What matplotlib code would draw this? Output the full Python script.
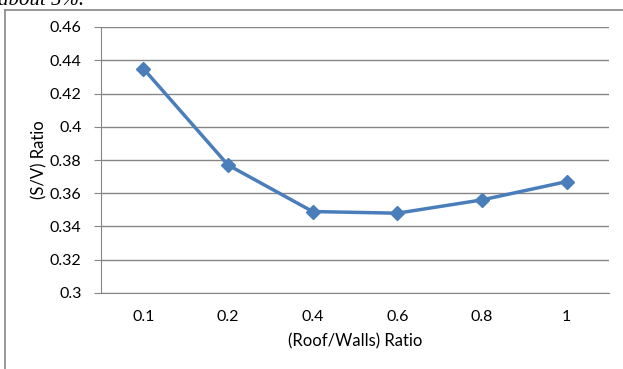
import matplotlib
matplotlib.use("Agg")
import matplotlib.pyplot as plt
from matplotlib.lines import Line2D

# Data
categories = ["0.1", "0.2", "0.4", "0.6", "0.8", "1"]
sv_ratio = [0.435, 0.377, 0.349, 0.348, 0.356, 0.367]
yticks = [0.3, 0.32, 0.34, 0.36, 0.38, 0.4, 0.42, 0.44, 0.46]
ytick_labels = ["0.3", "0.32", "0.34", "0.36", "0.38", "0.4", "0.42", "0.44", "0.46"]

plt.rcParams["font.family"] = ["Lato", "DejaVu Sans"]

W, H = 623, 369
fig = plt.figure(figsize=(W / 100, H / 100), dpi=100)

# cut-off text above the chart
fig.text(-2 / W, 1 - 5 / H, "about 5%.", fontsize=15, family="Liberation Serif",
         style="italic", ha="left", va="baseline")

# chart border (top + left visible)
fig.add_artist(Line2D([5 / W, 1.0], [1 - 10 / H, 1 - 10 / H], color="#868686", lw=1.2))
fig.add_artist(Line2D([5 / W, 5 / W], [0, 1 - 10 / H], color="#868686", lw=1.2))

ax = fig.add_axes([101 / W, 1 - 293 / H, (609 - 101) / W, (293 - 27) / H])

x = list(range(len(categories)))
ax.plot(x, sv_ratio, color="#4A7EBB", lw=2.5, marker="D", markersize=7,
        markerfacecolor="#4A7EBB", markeredgecolor="#4A7EBB")

ax.set_xlim(-0.5, len(categories) - 0.5)
ax.set_ylim(0.3, 0.46)
ax.set_xticks(x)
ax.set_xticklabels(categories)
ax.set_yticks(yticks)
ax.set_yticklabels(ytick_labels)

ax.grid(axis="y", color="#868686", lw=1)
ax.set_axisbelow(True)
for s in ["top", "right"]:
    ax.spines[s].set_visible(False)
ax.spines["left"].set_color("#868686")
ax.spines["bottom"].set_color("#868686")
ax.tick_params(axis="y", length=5, color="#868686", labelsize=11.5, pad=9)
ax.tick_params(axis="x", length=0, labelsize=11.5, pad=12)

ax.set_ylabel("(S/V) Ratio", fontsize=12)
ax.yaxis.set_label_coords(-0.105, 0.5)
ax.set_xlabel("(Roof/Walls) Ratio", fontsize=12, labelpad=7)

fig.savefig("out.png", dpi=100)
